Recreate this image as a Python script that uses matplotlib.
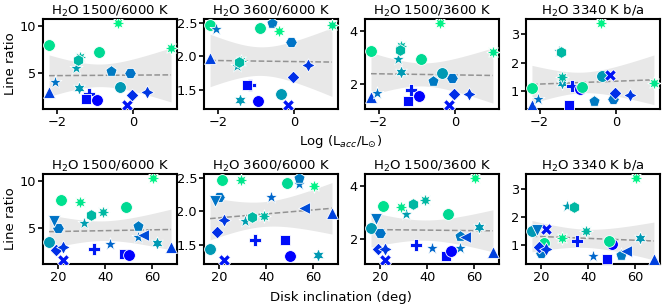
import numpy as np
import matplotlib
matplotlib.use("Agg")
import matplotlib.pyplot as plt
from matplotlib import cm

# ---- data (one entry per source) ----
sources = ["A", "B", "C", "D", "E", "W", "G", "H", "I", "J", "K", "L",
           "M", "N", "O", "P", "Q", "R", "S", "T", "U", "V"]
log_lacc = [-2.2, -2.2, -2.05, -1.42, -1.5, -1.4, -1.45, -1.15, -1.22, -0.95, -0.9, -0.58,
            -0.4, -0.35, -0.07, -0.15, -0.02, 0.38, 1.0, np.nan, np.nan, np.nan]
inclination = [21, 68, 54, 62, 31, 39, 34, 35, 48, 50, 49, 54,
               60.5, 16, 20, 22, 19, 22, 29, 18, 42, 56]
ratio_1500_6000 = [8.0, 3.0, 4.0, 3.4, 5.5, 6.7, 6.4, 2.75, 2.2, 2.1, 7.2, 5.2,
                   10.3, 3.5, 5.0, 1.6, 2.7, 3.0, 7.7, 5.7, 3.3, 4.2]
ratio_3600_6000 = [2.47, 1.98, 2.41, 1.35, 1.86, 1.93, 1.91, 1.57, 1.57, 1.33, 2.43, 2.5,
                   2.38, 1.44, 2.22, 1.27, 1.69, 1.87, 2.47, 2.15, 2.22, 2.05]
ratio_1500_3600 = [3.25, 1.5, 1.65, 2.46, 2.95, 3.45, 3.3, 1.75, 1.35, 1.55, 2.95, 2.1,
                   4.3, 2.4, 2.22, 1.2, 1.6, 1.6, 3.2, 2.75, 1.65, 2.05]
ratio_3340_ba = [1.1, 0.5, 0.7, 1.27, 2.4, 1.5, 2.38, 1.17, 0.5, 1.05, 1.15, 0.65,
                 3.4, 1.52, 0.72, 1.57, 0.93, 0.87, 1.27, 1.55, 0.62, 0.8]
color_value = [0.88, 0.25, 0.45, 0.6, 0.62, 0.72, 0.72, 0.1, 0.05, 0.0, 0.85, 0.48,
               0.95, 0.6, 0.45, 0.08, 0.18, 0.22, 0.9, 0.45, 0.4, 0.3]
markers = ['o', '^', '*', (6, 1, 0), '*', (8, 1, 0), 'h', 'P', 's', 'o', 'o', 'p',
           (8, 1, 0), 'o', 'H', 'X', 'D', (4, 1, 0), (8, 1, 0), 'v', '*', '<']

titles = ["H$_2$O 1500/6000 K", "H$_2$O 3600/6000 K", "H$_2$O 1500/3600 K", "H$_2$O 3340 K b/a"]
ratios = [ratio_1500_6000, ratio_3600_6000, ratio_1500_3600, ratio_3340_ba]
xvars = [log_lacc, inclination]

cmap = cm.get_cmap("winter")


def marker_size(m):
    if m == '*' or isinstance(m, tuple):
        return 95
    if m == 'D':
        return 42
    if m == 's':
        return 50
    return 72


fig, axes = plt.subplots(2, 4, figsize=(6.64, 3.07), dpi=100)
fig.subplots_adjust(left=43/664, right=660/664, top=1-19/307, bottom=1-264/307,
                    wspace=0.2, hspace=0.72)


def reg_band(ax, x, y):
    x = np.asarray(x, float)
    y = np.asarray(y, float)
    ok = ~np.isnan(x) & ~np.isnan(y)
    x, y = x[ok], y[ok]
    n = len(x)
    b, a = np.polyfit(x, y, 1)
    grid = np.linspace(x.min(), x.max(), 100)
    yhat = a + b * grid
    resid = y - (a + b * x)
    s = np.sqrt(np.sum(resid ** 2) / (n - 2))
    sxx = np.sum((x - x.mean()) ** 2)
    se = s * np.sqrt(1.0 / n + (grid - x.mean()) ** 2 / sxx)
    t = 2.1
    ax.fill_between(grid, yhat - t * se, yhat + t * se, color="#e8e8e8", lw=0, zorder=0)
    ax.plot(grid, yhat, ls="--", color="#939393", lw=1.1, zorder=1)


for r in range(2):
    xv = xvars[r]
    for c in range(4):
        ax = axes[r, c]
        yv = ratios[c]
        reg_band(ax, xv, yv)
        for i in range(len(sources)):
            if np.isnan(xv[i]):
                continue
            ax.scatter(xv[i], yv[i], marker=markers[i], s=marker_size(markers[i]),
                       color=cmap(color_value[i]), edgecolor="white", linewidth=0.6, zorder=3)
        ax.set_title(titles[c], fontsize=9.5, pad=3)
        ax.tick_params(labelsize=9.3, width=1.2, length=3.5, pad=1.5)
        for sp in ax.spines.values():
            sp.set_linewidth(1.5)

for ax in axes[0]:
    ax.set_xticks([-2, 0])
for ax in axes[1]:
    ax.set_xticks([20, 40, 60])
for r in range(2):
    axes[r, 0].set_yticks([5, 10])
    axes[r, 1].set_yticks([1.5, 2.0, 2.5])
    axes[r, 2].set_yticks([2, 4])
    axes[r, 3].set_yticks([1, 2, 3])
    axes[r, 0].set_ylabel("Line ratio", fontsize=9.5, labelpad=2)

fig.text(341/664, 1-141/307, "Log (L$_{acc}$/L$_{\\odot}$)", ha="center", va="center", fontsize=9.5)
fig.text(341/664, 1-297/307, "Disk inclination (deg)", ha="center", va="center", fontsize=9.5)

fig.savefig("out.png", dpi=100)
